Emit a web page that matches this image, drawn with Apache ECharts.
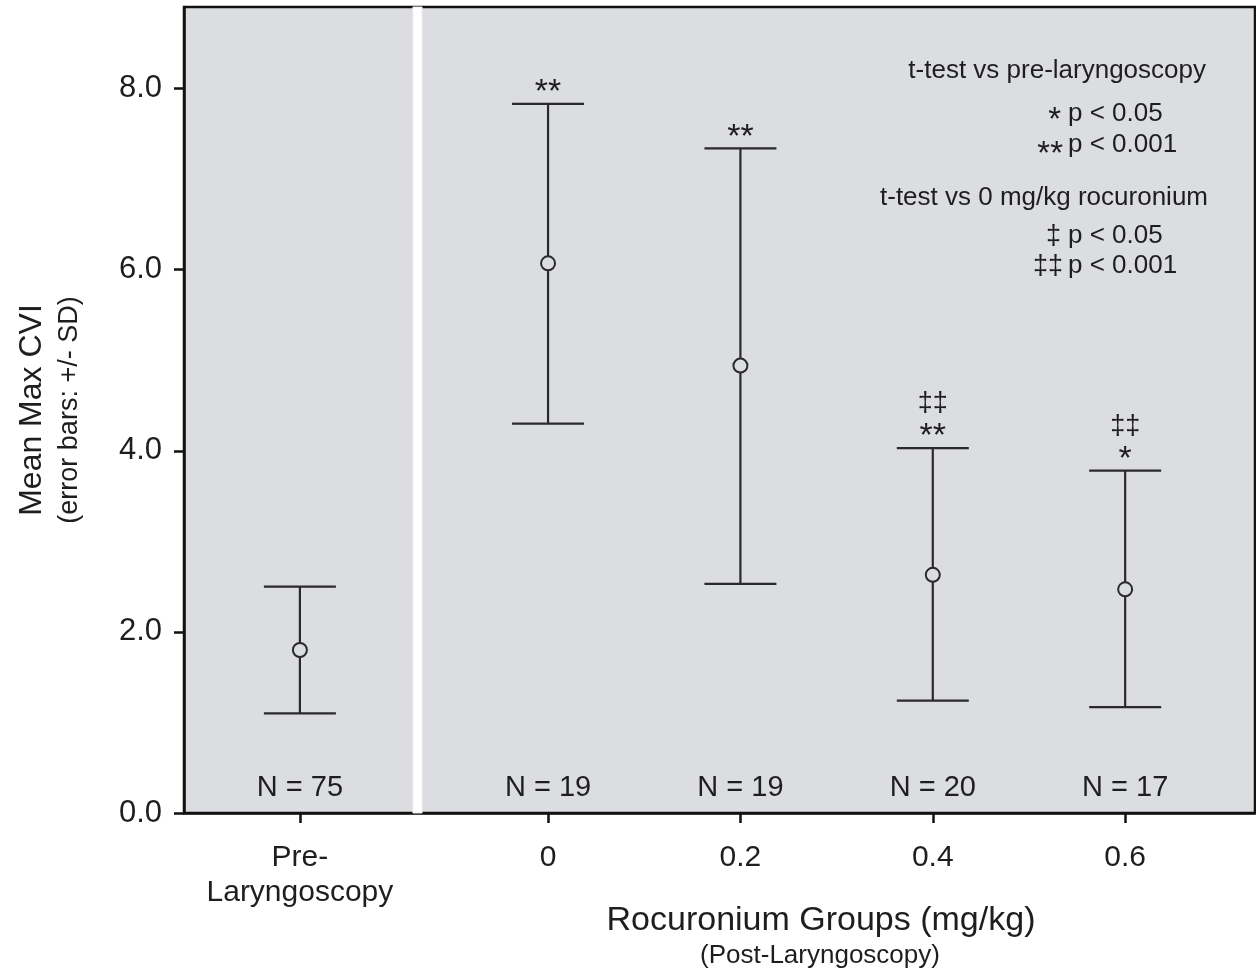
<!DOCTYPE html>
<html>
<head>
<meta charset="utf-8">
<script src="https://cdn.jsdelivr.net/npm/echarts@6/dist/echarts.min.js"></script>
<style>
html,body{margin:0;padding:0;background:#fff;}
#chart{width:1256px;height:975px;}
</style>
</head>
<body>
<div id="chart"></div>
<script>
// ---- data ----
const groupX      = [-0.258, 0, 0.2, 0.4, 0.6];          // x position of each group
const groupLabels = ['Pre-\nLaryngoscopy', '0', '0.2', '0.4', '0.6'];
const means       = [1.80, 6.07, 4.94, 2.63, 2.47];
const lower       = [1.10, 4.30, 2.53, 1.24, 1.17];
const upper       = [2.50, 7.83, 7.34, 4.03, 3.78];
const nLabels     = ['N = 75', 'N = 19', 'N = 19', 'N = 20', 'N = 17'];
const starMarks   = ['', '**', '**', '**', '*'];
const daggerMarks = ['', '', '', '‡‡', '‡‡'];
const yTicks      = [0, 2, 4, 6, 8];
const separatorX  = [-0.1405, -0.131];

const FONT = '"Liberation Sans", Arial, Helvetica, sans-serif';
const INK = '#1e1e1e';
const LINE = '#2a2a2a';
const BG = '#dcdde0';

const seriesData = groupX.map((x, i) => [x, means[i], lower[i], upper[i], i]);

const chart = echarts.init(document.getElementById('chart'), null, {renderer: 'canvas'});

const option = {
  backgroundColor: '#ffffff',
  animation: false,
  textStyle: {fontFamily: FONT, color: INK},
  grid: {
    left: 184, right: 1, top: 7, bottom: 162,
    show: true, backgroundColor: BG, borderColor: '#111', borderWidth: 2.5
  },
  xAxis: {
    type: 'value', min: -0.3785, max: 0.735,
    splitLine: {show: false},
    axisLine: {show: true, onZero: false, lineStyle: {color: '#111', width: 2.5}},
    axisTick: {show: true, inside: false, length: 10, lineStyle: {color: '#111', width: 2.5}, customValues: groupX},
    axisLabel: {
      customValues: groupX, margin: 27,
      fontSize: 30, fontFamily: FONT, color: INK, lineHeight: 35,
      formatter: function (v) {
        let idx = 0, best = 1e9;
        groupX.forEach((g, i) => { const d = Math.abs(g - v); if (d < best) { best = d; idx = i; } });
        return groupLabels[idx];
      }
    }
  },
  yAxis: {
    type: 'value', min: 0, max: 8.9,
    splitLine: {show: false},
    axisLine: {show: true, onZero: false, lineStyle: {color: '#111', width: 2.5}},
    axisTick: {show: true, inside: false, length: 10, lineStyle: {color: '#111', width: 2.5}, customValues: yTicks},
    axisLabel: {customValues: yTicks, margin: 22, fontSize: 31, fontFamily: FONT, color: INK,
      formatter: v => Number(v).toFixed(1)}
  },
  graphic: [
    // y-axis title
    {type: 'text', x: 32, y: 410, rotation: Math.PI / 2,
      style: {text: 'Mean Max CVI', font: '32px ' + FONT, fill: INK, align: 'center', verticalAlign: 'middle'}},
    {type: 'text', x: 70, y: 410, rotation: Math.PI / 2,
      style: {text: '(error bars: +/- SD)', font: '27px ' + FONT, fill: INK, align: 'center', verticalAlign: 'middle'}},
    // x-axis title
    {type: 'text', x: 821, y: 921,
      style: {text: 'Rocuronium Groups (mg/kg)', font: '34px ' + FONT, fill: INK, align: 'center', verticalAlign: 'middle'}},
    {type: 'text', x: 820, y: 956,
      style: {text: '(Post-Laryngoscopy)', font: '26px ' + FONT, fill: INK, align: 'center', verticalAlign: 'middle'}},
    // significance key
    {type: 'text', x: 1206, y: 71,
      style: {text: 't-test vs pre-laryngoscopy', font: '26px ' + FONT, fill: INK, align: 'right', verticalAlign: 'middle'}},
    {type: 'text', x: 1061, y: 121,
      style: {text: '*', font: '33px ' + FONT, fill: INK, align: 'right', verticalAlign: 'middle'}},
    {type: 'text', x: 1068, y: 114,
      style: {text: 'p < 0.05', font: '26px ' + FONT, fill: INK, align: 'left', verticalAlign: 'middle'}},
    {type: 'text', x: 1063, y: 155,
      style: {text: '**', font: '33px ' + FONT, fill: INK, align: 'right', verticalAlign: 'middle'}},
    {type: 'text', x: 1068, y: 145,
      style: {text: 'p < 0.001', font: '26px ' + FONT, fill: INK, align: 'left', verticalAlign: 'middle'}},
    {type: 'text', x: 1208, y: 198,
      style: {text: 't-test vs 0 mg/kg rocuronium', font: '26px ' + FONT, fill: INK, align: 'right', verticalAlign: 'middle'}},
    {type: 'text', x: 1061, y: 237,
      style: {text: '‡', font: '27px ' + FONT, fill: INK, align: 'right', verticalAlign: 'middle'}},
    {type: 'text', x: 1068, y: 236,
      style: {text: 'p < 0.05', font: '26px ' + FONT, fill: INK, align: 'left', verticalAlign: 'middle'}},
    {type: 'text', x: 1063, y: 267,
      style: {text: '‡‡', font: '27px ' + FONT, fill: INK, align: 'right', verticalAlign: 'middle'}},
    {type: 'text', x: 1068, y: 266,
      style: {text: 'p < 0.001', font: '26px ' + FONT, fill: INK, align: 'left', verticalAlign: 'middle'}}
  ],
  series: [
    {
      type: 'line', data: [], silent: true,
      markArea: {
        silent: true,
        itemStyle: {color: '#ffffff', borderColor: '#eeeeee', borderWidth: 1},
        data: [[{xAxis: separatorX[0]}, {xAxis: separatorX[1]}]]
      }
    },
    {
      type: 'custom',
      data: seriesData,
      clip: false,
      renderItem: function (params, api) {
        const x = api.value(0), m = api.value(1), lo = api.value(2), hi = api.value(3), i = api.value(4);
        const pHi = api.coord([x, hi]);
        const pLo = api.coord([x, lo]);
        const pM = api.coord([x, m]);
        const p0 = api.coord([x, 0]);
        const w = 36;
        const ls = {stroke: LINE, lineWidth: 2.2};
        const children = [
          {type: 'line', shape: {x1: pHi[0], y1: pHi[1], x2: pLo[0], y2: pLo[1]}, style: ls},
          {type: 'line', shape: {x1: pHi[0] - w, y1: pHi[1], x2: pHi[0] + w, y2: pHi[1]}, style: ls},
          {type: 'line', shape: {x1: pLo[0] - w, y1: pLo[1], x2: pLo[0] + w, y2: pLo[1]}, style: ls},
          {type: 'circle', shape: {cx: pM[0], cy: pM[1], r: 7}, style: {fill: BG, stroke: LINE, lineWidth: 2}},
          {type: 'text', x: p0[0], y: p0[1] - 25,
            style: {text: nLabels[i], font: '29px ' + FONT, fill: INK, align: 'center', verticalAlign: 'middle'}}
        ];
        const s = starMarks[i], d = daggerMarks[i];
        if (s) {
          children.push({type: 'text', x: pHi[0], y: pHi[1] - 11,
            style: {text: s, font: '34px ' + FONT, fill: INK, align: 'center', verticalAlign: 'middle'}});
        }
        if (d) {
          children.push({type: 'text', x: pHi[0], y: pHi[1] - 44,
            style: {text: d, font: '27px ' + FONT, fill: INK, align: 'center', verticalAlign: 'middle'}});
        }
        return {type: 'group', children: children};
      }
    }
  ]
};
chart.setOption(option);
</script>
</body>
</html>
